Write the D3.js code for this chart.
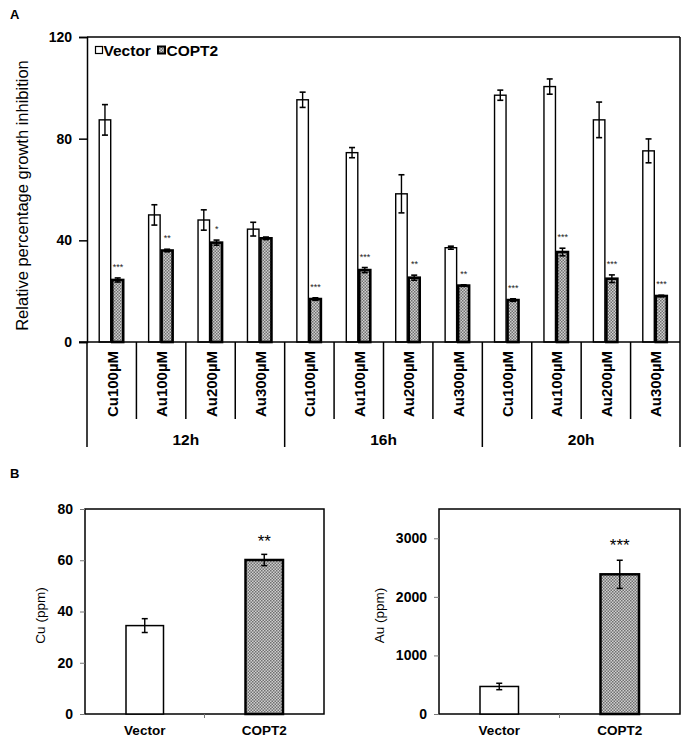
<!DOCTYPE html>
<html><head><meta charset="utf-8">
<script src="https://cdn.jsdelivr.net/npm/d3@7"></script>
<style>body{margin:0;background:#fff}svg{display:block}text{font-family:Arial,"Liberation Sans",sans-serif}</style>
</head><body><svg id="c" width="685" height="739"></svg>
<script>
// Panel A data
const groups = ["12h","16h","20h"];
const treatments = ["Cu100µM","Au100µM","Au200µM","Au300µM"];
const series = ["Vector","COPT2"];
const vectorVals = [87.4,50,48,44.4, 95.3,74.5,58.3,37.1, 97.1,100.5,87.4,75.2];
const vectorErr  = [6,4,4,2.7, 3,2,7.5,0.6, 2,3,7,4.7];
const coptVals   = [24.4,36,39.1,40.8, 16.9,28.3,25.3,22.2, 16.5,35.4,24.9,18.1];
const coptErr    = [0.8,0.5,1,0.5, 0.5,1,1,0.3, 0.5,1.5,1.5,0.3];
const coptSig    = ["***","**","*","", "***","***","**","**", "***","***","***","***"];
const yTicksA = [0,40,80,120];
// Panel B data
const bCats = ["Vector","COPT2"];
const cuVals = [34.5,60.1], cuErr = [2.7,2.2], cuSig = ["","**"];
const auVals = [470,2385], auErr = [55,240], auSig = ["","***"];
const cuTicks = [0,20,40,60,80], auTicks = [0,1000,2000,3000];

const svg = d3.select("#c");
const defs = svg.append("defs");
const pat = defs.append("pattern").attr("id","chk").attr("width",3).attr("height",3).attr("patternUnits","userSpaceOnUse");
pat.append("rect").attr("width",3).attr("height",3).attr("fill","#cfcfcf");
pat.append("rect").attr("x",0).attr("y",0).attr("width",1.5).attr("height",1.5).attr("fill","#707070");
pat.append("rect").attr("x",1.5).attr("y",1.5).attr("width",1.5).attr("height",1.5).attr("fill","#707070");

const FONT = 'Arial,"Liberation Sans",sans-serif';

// Panel labels
svg.append("text").attr("x",10).attr("y",19).attr("font-size",13).attr("font-weight","bold").text("A");
svg.append("text").attr("x",10).attr("y",478).attr("font-size",13).attr("font-weight","bold").text("B");

// ---------- Panel A ----------
const cats = [];
groups.forEach(g => treatments.forEach(t => cats.push(g+"|"+t)));
const L=87, R=680, T=37, B=342;
const x = d3.scaleBand().domain(cats).range([L,R]);
const bw = x.bandwidth();
const xs = d3.scaleBand().domain(series).range([bw/2-12.5, bw/2+12.5]);
const y = d3.scaleLinear().domain([0,120]).range([B,T]);
const gA = svg.append("g");

gA.append("line").attr("x1",L).attr("x2",R).attr("y1",T).attr("y2",T).attr("stroke","#000").attr("stroke-width",1.5);
gA.append("line").attr("x1",R).attr("x2",R).attr("y1",T).attr("y2",B).attr("stroke","#000").attr("stroke-width",1.5);

const yAx = gA.append("g").attr("transform",`translate(${L},0)`)
  .call(d3.axisLeft(y).tickValues(yTicksA).tickSize(8).tickPadding(7));
yAx.select(".domain").attr("stroke-width",1.5);
yAx.selectAll(".tick line").attr("stroke-width",1.5);
yAx.selectAll("text").attr("font-size",14).attr("font-weight","bold").attr("font-family",FONT);

gA.append("text").attr("transform",`translate(28,${(T+B)/2+6}) rotate(-90)`).attr("text-anchor","middle")
  .attr("font-size",16.5).text("Relative percentage growth inhibition");

const rows = cats.map((c,i)=>({c,i}));
rows.forEach(d=>{
  const x0 = x(d.c);
  gA.append("rect").attr("x",x0+xs("Vector")).attr("y",y(vectorVals[d.i])).attr("width",xs.bandwidth()-1)
    .attr("height",y(0)-y(vectorVals[d.i])).attr("fill","#fff").attr("stroke","#000").attr("stroke-width",1.4);
  gA.append("rect").attr("x",x0+xs("COPT2")+0.5).attr("y",y(coptVals[d.i])).attr("width",xs.bandwidth()-1.5)
    .attr("height",y(0)-y(coptVals[d.i])).attr("fill","url(#chk)").attr("stroke","#000").attr("stroke-width",2.6);
  [[xs("Vector")+(xs.bandwidth()-1)/2, vectorVals[d.i], vectorErr[d.i]],[xs("COPT2")+xs.bandwidth()/2-0.25, coptVals[d.i], coptErr[d.i]]].forEach(([dx,v,e])=>{
    const cx = x0+dx;
    gA.append("line").attr("x1",cx).attr("x2",cx).attr("y1",y(v+e)).attr("y2",y(v-e)).attr("stroke","#000").attr("stroke-width",1.4);
    [v+e,v-e].forEach(vv=>gA.append("line").attr("x1",cx-3).attr("x2",cx+3).attr("y1",y(vv)).attr("y2",y(vv)).attr("stroke","#000").attr("stroke-width",1.6));
  });
  if (coptSig[d.i]) {
    gA.append("text").attr("x",x0+xs("COPT2")+xs.bandwidth()/2).attr("y",y(coptVals[d.i]+coptErr[d.i])-8)
      .attr("text-anchor","middle").attr("font-size",9).attr("fill","#222").text(coptSig[d.i]);
  }
});

gA.append("line").attr("x1",L-8).attr("x2",R).attr("y1",B).attr("y2",B).attr("stroke","#000").attr("stroke-width",1.5);
cats.forEach((c,i)=>{
  const xx = x(c);
  const isGroup = i%4===0;
  gA.append("line").attr("x1",xx).attr("x2",xx).attr("y1",B).attr("y2",isGroup?447:419).attr("stroke","#000").attr("stroke-width",1.5);
  gA.append("text").attr("transform",`translate(${xx+bw/2+6},384) rotate(-90)`).attr("text-anchor","middle")
    .attr("font-size",15).attr("font-weight","bold").text(c.split("|")[1]);
});
gA.append("line").attr("x1",R).attr("x2",R).attr("y1",B).attr("y2",447).attr("stroke","#000").attr("stroke-width",1.5);
groups.forEach((g,gi)=>{
  const x0 = x(g+"|"+treatments[0]), x1 = x(g+"|"+treatments[3])+bw;
  gA.append("text").attr("x",(x0+x1)/2).attr("y",445).attr("text-anchor","middle").attr("font-size",15.5).attr("font-weight","bold").text(g);
});

const lg = gA.append("g");
lg.append("rect").attr("x",95.5).attr("y",46.5).attr("width",7).attr("height",7).attr("fill","#fff").attr("stroke","#000").attr("stroke-width",1.2);
lg.append("text").attr("x",103.5).attr("y",55.5).attr("font-size",15.5).attr("font-weight","bold").text(series[0]);
lg.append("rect").attr("x",158).attr("y",46.5).attr("width",7).attr("height",7).attr("fill","url(#chk)").attr("stroke","#000").attr("stroke-width",2);
lg.append("text").attr("x",166.5).attr("y",55.5).attr("font-size",15.5).attr("font-weight","bold").text(series[1]);

// ---------- Panel B ----------
function panelB(opt){
  const {L,R,T,B,max,ticks,vals,errs,sigs,label,barW} = opt;
  const g = svg.append("g");
  const yy = d3.scaleLinear().domain([0,max]).range([B,T]);
  const xb = d3.scaleBand().domain(bCats).range([L,R]);
  g.append("rect").attr("x",L).attr("y",T).attr("width",R-L).attr("height",B-T).attr("fill","none").attr("stroke","#000").attr("stroke-width",1.5);
  const ax = g.append("g").attr("transform",`translate(${L},0)`).call(d3.axisLeft(yy).tickValues(ticks).tickFormat(d3.format("d")).tickSize(5).tickPadding(opt.pad));
  ax.select(".domain").remove();
  ax.selectAll(".tick line").attr("stroke","#777");
  ax.selectAll("text").attr("font-size",14).attr("font-weight","bold").attr("font-family",FONT);
  g.append("line").attr("x1",(L+R)/2).attr("x2",(L+R)/2).attr("y1",B).attr("y2",B+4).attr("stroke","#777");
  g.append("text").attr("transform",`translate(${opt.labX},${(T+B)/2+4}) rotate(-90)`).attr("text-anchor","middle").attr("font-size",13.5).text(label);
  bCats.forEach((c,i)=>{
    const cx = xb(c)+xb.bandwidth()/2;
    const w = barW;
    g.append("rect").attr("x",cx-w/2).attr("y",yy(vals[i])).attr("width",w).attr("height",B-yy(vals[i]))
      .attr("fill",i===0?"#fff":"url(#chk)").attr("stroke","#000").attr("stroke-width",i===0?1.5:2.5);
    g.append("line").attr("x1",cx).attr("x2",cx).attr("y1",yy(vals[i]+errs[i])).attr("y2",yy(vals[i]-errs[i])).attr("stroke","#000").attr("stroke-width",1.4);
    [vals[i]+errs[i],vals[i]-errs[i]].forEach(v=>g.append("line").attr("x1",cx-3).attr("x2",cx+3).attr("y1",yy(v)).attr("y2",yy(v)).attr("stroke","#000").attr("stroke-width",1.5));
    if (sigs[i]) g.append("text").attr("x",cx).attr("y",opt.sigY).attr("text-anchor","middle").attr("font-size",17).text(sigs[i]);
    g.append("text").attr("x",cx).attr("y",B+21).attr("text-anchor","middle").attr("font-size",13.5).attr("font-weight","bold").text(c);
  });
}
panelB({L:85,R:324,T:509,B:714,max:80,ticks:cuTicks,vals:cuVals,errs:cuErr,sigs:cuSig,label:"Cu (ppm)",barW:37.5,labX:45,sigY:547,pad:7});
panelB({L:439,R:680,T:509,B:714,max:3500,ticks:auTicks,vals:auVals,errs:auErr,sigs:auSig,label:"Au (ppm)",barW:38.5,labX:384,sigY:551,pad:7});
</script></body></html>
